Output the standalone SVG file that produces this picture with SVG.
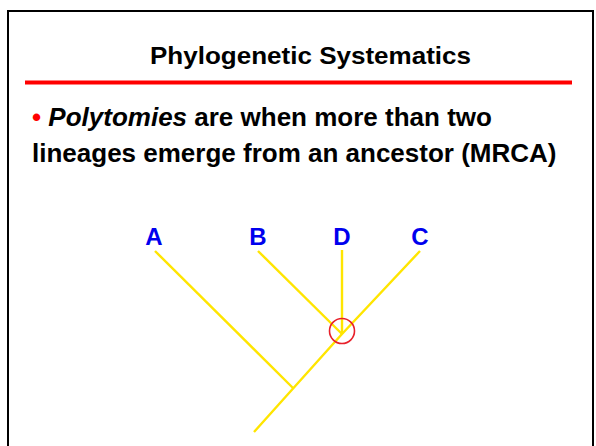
<svg xmlns="http://www.w3.org/2000/svg" width="596" height="446" viewBox="0 0 596 446">
<style>
.t{font-family:"Liberation Sans",Arial,sans-serif;font-weight:bold}
.lbl{font-family:"Liberation Sans",Arial,sans-serif;font-weight:bold;font-size:24px;fill:#0000EE;text-anchor:middle}
.br{stroke:#FFE500;stroke-width:2.4;fill:none;stroke-linecap:butt}
</style>
<rect x="0" y="0" width="596" height="446" fill="#fff"/>
<rect x="8" y="11" width="585" height="450" fill="none" stroke="#000" stroke-width="2"/>
<g id="title">
<text class="t" x="150" y="64" font-size="24.5" textLength="321" lengthAdjust="spacingAndGlyphs">Phylogenetic Systematics</text>
<rect x="25" y="80.5" width="547" height="4" fill="#FF0000"/>
</g>
<g id="bullet">
<text class="t" x="32" y="126" font-size="26"><tspan fill="#FF0000">•</tspan> <tspan font-style="italic">Polytomies</tspan> are when more than two</text>
<text class="t" x="32" y="162" font-size="26">lineages emerge from an ancestor (MRCA)</text>
</g>
<g id="labels">
<text class="lbl" x="154" y="245">A</text>
<text class="lbl" x="258" y="245">B</text>
<text class="lbl" x="342" y="245">D</text>
<text class="lbl" x="420" y="245">C</text>
</g>
<g id="connectors">
<polyline class="br" points="254,432 342,334 420,251"/>
<line class="br" x1="155" y1="251" x2="293" y2="388"/>
<line class="br" x1="258" y1="251" x2="342" y2="334"/>
<line class="br" x1="342" y1="250" x2="342" y2="334" stroke-width="3.2"/>
</g>
<g id="mrca">
<circle cx="342" cy="331" r="12.5" fill="none" stroke="#E8202A" stroke-width="1.6"/>
</g>
</svg>
